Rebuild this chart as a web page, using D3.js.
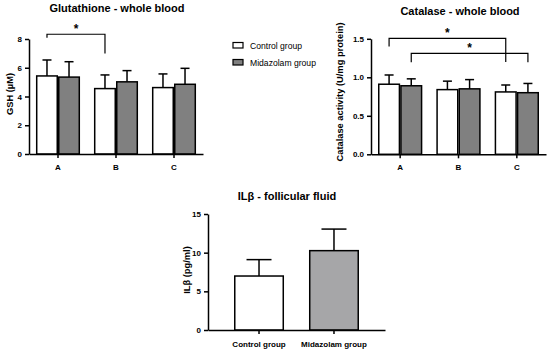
<!DOCTYPE html>
<html>
<head>
<meta charset="utf-8">
<script src="https://cdn.jsdelivr.net/npm/d3@7"></script>
<style>
  body { margin: 0; background: #fff; }
  svg { font-family: "Liberation Sans", Arial, sans-serif; }
  .axis path, .axis line { stroke: #000; stroke-width: 1.5; }
  .axis text { font-size: 8px; font-weight: bold; fill: #000; }
</style>
</head>
<body>
<script>
// data
const groups = ['A', 'B', 'C']
const series = ['Control group', 'Midazolam group']

const gshMean = [[5.43, 5.35], [4.55, 5.02], [4.62, 4.85]]
const gshErr = [[6.54, 6.42], [5.5, 5.8], [5.57, 5.96]]
const gshTicks = [0, 2, 4, 6, 8]

const catMean = [[0.91, 0.89], [0.84, 0.85], [0.81, 0.80]]
const catErr = [[1.03, 0.98], [0.95, 0.97], [0.90, 0.92]]
const catTicks = [0, 0.5, 1.0, 1.5]

const ilMean = [6.98, 10.26]
const ilErr = [9.1, 13.05]
const ilTicks = [0, 5, 10, 15]

// significance brackets: [from group, from series, to group, to series, top, left leg end, right leg end]
const gshSig = [['A', 0, 'B', 0, 8.33, 8.09, 7.0]]
const catSig = [['A', 0, 'C', 0, 1.505, 1.40, 1.20], ['A', 1, 'C', 1, 1.31, 1.195, 1.195]]

const fills = ['#ffffff', '#808080']

const svg = d3.select('body').append('svg')
    .attr('width', 550).attr('height', 350)

function groupedChart(opts) {
    const x = d3.scaleBand().domain(groups).range(opts.xr).paddingInner(0.24).paddingOuter(0.12)
    const xs = d3.scaleBand().domain([0, 1]).range([0, x.bandwidth()])
    const y = d3.scaleLinear().domain(opts.yd).range(opts.yr)

    const g = svg.append('g')

    g.append('g').attr('class', 'axis')
        .attr('transform', `translate(${opts.xr[0]},0)`)
        .call(d3.axisLeft(y).tickValues(opts.ticks).tickSize(4).tickSizeOuter(0).tickFormat(opts.fmt))

    opts.mean.forEach((m, i) => {
        m.forEach((v, j) => {
            const bx = x(groups[i]) + xs(j)
            const cx = bx + xs.bandwidth() / 2
            g.append('line')
                .attr('x1', cx).attr('x2', cx)
                .attr('y1', y(v)).attr('y2', y(opts.err[i][j]))
                .attr('stroke', '#000').attr('stroke-width', 1.5)
            g.append('line')
                .attr('x1', cx - 4.5).attr('x2', cx + 4.5)
                .attr('y1', y(opts.err[i][j])).attr('y2', y(opts.err[i][j]))
                .attr('stroke', '#000').attr('stroke-width', 1.5)
            g.append('rect')
                .attr('x', bx + 0.75).attr('width', xs.bandwidth() - 1.5)
                .attr('y', y(v)).attr('height', y(0) - y(v))
                .attr('fill', fills[j]).attr('stroke', '#000').attr('stroke-width', 1.5)
        })
    })

    g.append('g').attr('class', 'axis')
        .attr('transform', `translate(0,${opts.yr[0]})`)
        .call(d3.axisBottom(x).tickSize(4).tickSizeOuter(0))
        .selectAll('text').attr('dy', '1.1em')

    opts.sig.forEach(s => {
        const x1 = x(s[0]) + xs(s[1]) + xs.bandwidth() / 2
        const x2 = x(s[2]) + xs(s[3]) + xs.bandwidth() / 2
        g.append('path')
            .attr('d', `M${x1},${y(s[5])}V${y(s[4])}H${x2}V${y(s[6])}`)
            .attr('fill', 'none').attr('stroke', '#000').attr('stroke-width', 1.2)
        g.append('text')
            .attr('x', (x1 + x2) / 2).attr('y', y(s[4]) - 1)
            .attr('text-anchor', 'middle')
            .style('font-size', '12px').style('font-weight', 'bold')
            .text('*')
    })

    g.append('text')
        .attr('x', opts.titleX).attr('y', opts.titleY)
        .attr('text-anchor', 'middle')
        .style('font-size', '11px').style('font-weight', 'bold')
        .text(opts.title)

    g.append('text')
        .attr('transform', `translate(${opts.labelX},${opts.labelY}) rotate(-90)`)
        .attr('text-anchor', 'middle')
        .style('font-size', '9.3px').style('font-weight', 'bold')
        .text(opts.label)
}

groupedChart({
    xr: [29, 203], yr: [154, 39], yd: [0, 8],
    ticks: gshTicks, fmt: d3.format('d'),
    mean: gshMean, err: gshErr, sig: gshSig,
    title: 'Glutathione - whole blood', titleX: 117, titleY: 12,
    label: 'GSH (\u00b5M)', labelX: 13, labelY: 94
})

groupedChart({
    xr: [371, 546], yr: [154.3, 38.8], yd: [0, 1.5],
    ticks: catTicks, fmt: d3.format('.1f'),
    mean: catMean, err: catErr, sig: catSig,
    title: 'Catalase - whole blood', titleX: 460, titleY: 15,
    label: 'Catalase activity (U/mg protein)', labelX: 343, labelY: 92
})

// legend
const legend = svg.append('g')
series.forEach((s, i) => {
    legend.append('rect')
        .attr('x', 233).attr('y', 42.5 + i * 17)
        .attr('width', 10).attr('height', 5.5)
        .attr('fill', fills[i]).attr('stroke', '#000').attr('stroke-width', 1.2)
    legend.append('text')
        .attr('x', 250).attr('y', 48.5 + i * 17)
        .style('font-size', '8.6px')
        .text(s)
})

// IL-beta chart
const x3 = d3.scaleBand().domain(series).range([208, 385]).paddingInner(0.333).paddingOuter(0.347)
const y3 = d3.scaleLinear().domain([0, 15]).range([330, 214])
const g3 = svg.append('g')
const ilFills = ['#ffffff', '#a6a6a8']

g3.append('g').attr('class', 'axis')
    .attr('transform', 'translate(208,0)')
    .call(d3.axisLeft(y3).tickValues(ilTicks).tickSize(4).tickSizeOuter(0))

series.forEach((s, i) => {
    const cx = x3(s) + x3.bandwidth() / 2
    g3.append('line')
        .attr('x1', cx).attr('x2', cx)
        .attr('y1', y3(ilMean[i])).attr('y2', y3(ilErr[i]))
        .attr('stroke', '#000').attr('stroke-width', 1.5)
    g3.append('line')
        .attr('x1', cx - 12.5).attr('x2', cx + 12.5)
        .attr('y1', y3(ilErr[i])).attr('y2', y3(ilErr[i]))
        .attr('stroke', '#000').attr('stroke-width', 1.5)
    g3.append('rect')
        .attr('x', x3(s) + 0.75).attr('width', x3.bandwidth() - 1.5)
        .attr('y', y3(ilMean[i])).attr('height', y3(0) - y3(ilMean[i]))
        .attr('fill', ilFills[i]).attr('stroke', '#000').attr('stroke-width', 1.5)
})

g3.append('g').attr('class', 'axis')
    .attr('transform', 'translate(0,330)')
    .call(d3.axisBottom(x3).tickSize(4).tickSizeOuter(0))
    .selectAll('text').attr('dy', '1.2em')

g3.append('text')
    .attr('x', 287).attr('y', 200)
    .attr('text-anchor', 'middle')
    .style('font-size', '11px').style('font-weight', 'bold')
    .text('IL\u03b2 - follicular fluid')

g3.append('text')
    .attr('transform', 'translate(190,270) rotate(-90)')
    .attr('text-anchor', 'middle')
    .style('font-size', '9.3px').style('font-weight', 'bold')
    .text('IL\u03b2 (pg/ml)')
</script>
</body>
</html>
